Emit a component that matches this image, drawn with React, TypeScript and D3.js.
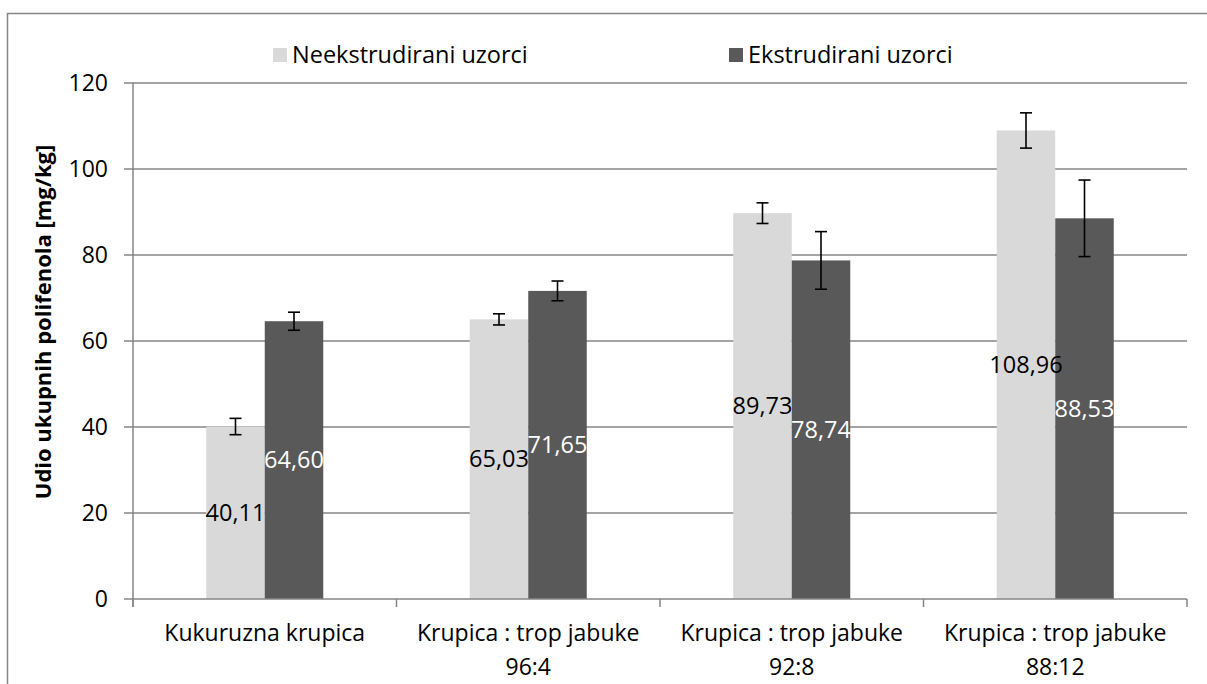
import React, { useEffect } from 'react';
import * as d3 from 'd3';

// values
const categories = [
  ['Kukuruzna krupica'],
  ['Krupica : trop jabuke', '96:4'],
  ['Krupica : trop jabuke', '92:8'],
  ['Krupica : trop jabuke', '88:12'],
];
const seriesNames = ['Neekstrudirani uzorci', 'Ekstrudirani uzorci'];
const neekstrudirani = [40.11, 65.03, 89.73, 108.96];
const ekstrudirani = [64.6, 71.65, 78.74, 88.53];
const errNeekstrudirani = [1.9, 1.3, 2.4, 4.1];
const errEkstrudirani = [2.1, 2.3, 6.7, 8.9];
const yTicks = [0, 20, 40, 60, 80, 100, 120];

const W = 1207;
const H = 684;
const FONT = "'Open Sans', sans-serif";
const GRID = '#868686';
const COLORS = ['#d9d9d9', '#595959'];
const LABEL_COLORS = ['#000000', '#ffffff'];

const plot = { left: 133, right: 1187, top: 83, bottom: 599 };

const fmt = (v: number) => d3.format('.2f')(v).replace('.', ',');

const App = () => {
  useEffect(() => {
    document.body.style.margin = '0';
  }, []);

  const keys = categories.map((_, i) => String(i));
  const x0 = d3.scaleBand().domain(keys).range([plot.left, plot.right]).padding(0);
  const x1 = d3
    .scaleBand()
    .domain(seriesNames)
    .range([0, x0.bandwidth()])
    .paddingInner(0)
    .paddingOuter(1.252);
  const y = d3.scaleLinear().domain([0, 120]).range([plot.bottom, plot.top]);

  const series = [
    { name: seriesNames[0], values: neekstrudirani, errs: errNeekstrudirani },
    { name: seriesNames[1], values: ekstrudirani, errs: errEkstrudirani },
  ];

  const boundaries = [...keys.map((k) => x0(k) as number), plot.right];

  return (
    <svg width={W} height={H} style={{ display: 'block' }} fontFamily={FONT}>
      <rect x={0} y={0} width={W} height={H} fill="#fff" />
      {/* chart area border, cut off at the right and bottom */}
      <path d={`M7.5,${H} V13.5 H${W}`} fill="none" stroke={GRID} strokeWidth={1.5} />

      {/* gridlines */}
      {yTicks.slice(1).map((t) => (
        <line
          key={t}
          x1={plot.left}
          x2={plot.right}
          y1={y(t)}
          y2={y(t)}
          stroke={GRID}
          strokeWidth={1.5}
        />
      ))}

      {/* bars */}
      {series.map((s, si) =>
        s.values.map((v, i) => (
          <rect
            key={`${si}-${i}`}
            x={(x0(keys[i]) as number) + (x1(s.name) as number)}
            y={y(v)}
            width={x1.bandwidth()}
            height={y(0) - y(v)}
            fill={COLORS[si]}
          />
        ))
      )}

      {/* error bars */}
      {series.map((s, si) =>
        s.values.map((v, i) => {
          const cx = (x0(keys[i]) as number) + (x1(s.name) as number) + x1.bandwidth() / 2;
          const lo = y(v - s.errs[i]);
          const hi = y(v + s.errs[i]);
          return (
            <g key={`e${si}-${i}`} stroke="#000" strokeWidth={1.6}>
              <line x1={cx} x2={cx} y1={lo} y2={hi} />
              <line x1={cx - 6} x2={cx + 6} y1={lo} y2={lo} />
              <line x1={cx - 6} x2={cx + 6} y1={hi} y2={hi} />
            </g>
          );
        })
      )}

      {/* data labels */}
      {series.map((s, si) =>
        s.values.map((v, i) => (
          <text
            key={`l${si}-${i}`}
            x={(x0(keys[i]) as number) + (x1(s.name) as number) + x1.bandwidth() / 2}
            y={y(v / 2)}
            dy="0.35em"
            textAnchor="middle"
            fontSize={23.5}
            fill={LABEL_COLORS[si]}
          >
            {fmt(v)}
          </text>
        ))
      )}

      {/* axes */}
      <line x1={plot.left} x2={plot.left} y1={plot.top} y2={plot.bottom + 8} stroke={GRID} strokeWidth={1.5} />
      <line x1={plot.left} x2={plot.right} y1={plot.bottom} y2={plot.bottom} stroke={GRID} strokeWidth={1.5} />
      {yTicks.map((t) => (
        <g key={`yt${t}`}>
          <line x1={plot.left - 9} x2={plot.left} y1={y(t)} y2={y(t)} stroke={GRID} strokeWidth={1.5} />
          <text x={108} y={y(t)} dy="0.35em" textAnchor="end" fontSize={23} fill="#000">
            {t}
          </text>
        </g>
      ))}
      {boundaries.map((bx, i) => (
        <line key={`xt${i}`} x1={bx} x2={bx} y1={plot.bottom} y2={plot.bottom + 8} stroke={GRID} strokeWidth={1.5} />
      ))}
      {categories.map((lines, i) => (
        <text
          key={`xl${i}`}
          x={(x0(keys[i]) as number) + x0.bandwidth() / 2}
          y={633}
          textAnchor="middle"
          fontSize={23}
          fill="#000"
        >
          {lines.map((ln, li) => (
            <tspan key={li} x={(x0(keys[i]) as number) + x0.bandwidth() / 2} dy={li === 0 ? '0.35em' : 34}>
              {ln}
            </tspan>
          ))}
        </text>
      ))}

      {/* y axis title */}
      <text
        transform="translate(43,322) rotate(-90)"
        textAnchor="middle"
        dy="0.35em"
        fontSize={22}
        fontWeight="bold"
        fill="#000"
      >
        Udio ukupnih polifenola [mg/kg]
      </text>

      {/* legend */}
      <rect x={273} y={48} width={14} height={14} fill={COLORS[0]} />
      <text x={292} y={55} dy="0.35em" fontSize={23.5} fill="#000">
        {seriesNames[0]}
      </text>
      <rect x={729} y={48} width={14} height={14} fill={COLORS[1]} />
      <text x={748} y={55} dy="0.35em" fontSize={23.5} fill="#000">
        {seriesNames[1]}
      </text>
    </svg>
  );
};

export default App;
